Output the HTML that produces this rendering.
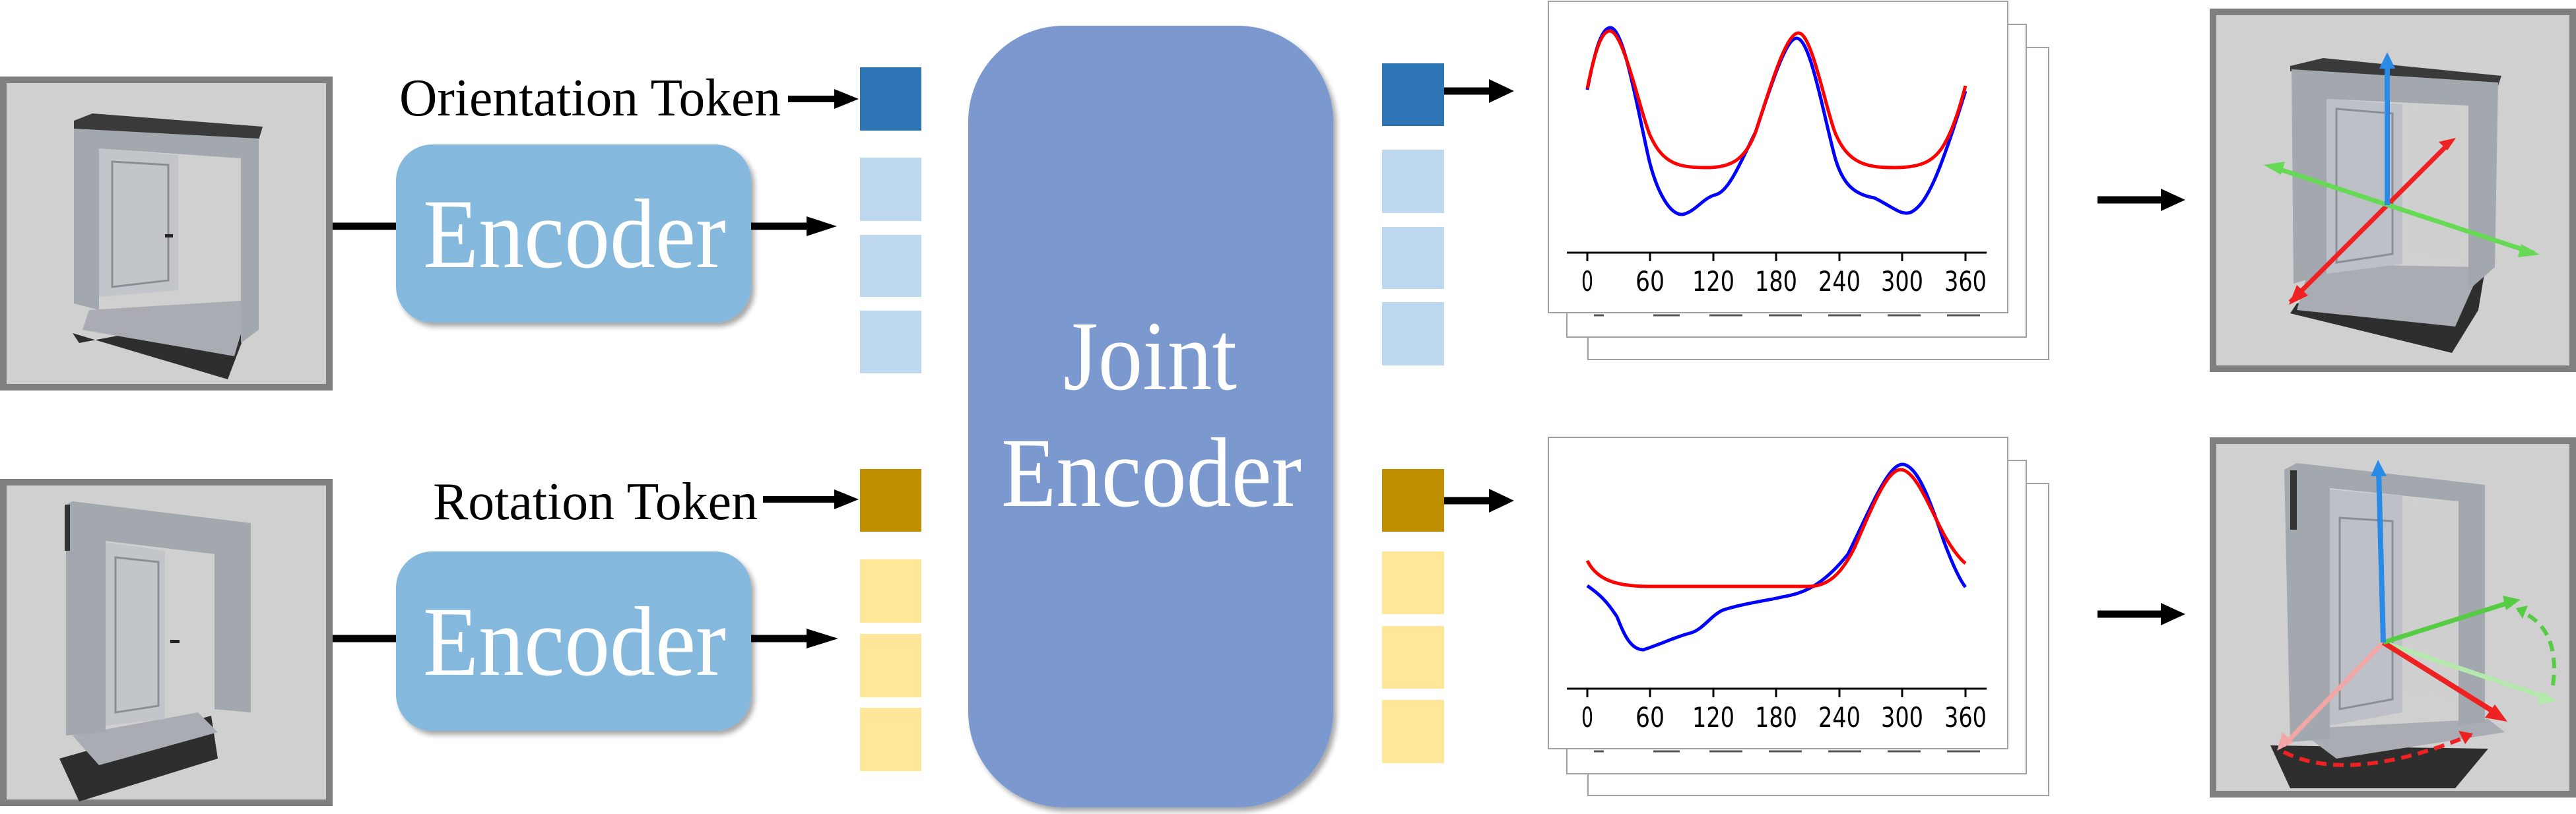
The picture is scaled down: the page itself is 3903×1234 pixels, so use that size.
<!DOCTYPE html>
<html><head><meta charset="utf-8"><style>
html,body{margin:0;padding:0;background:#fff;}
svg{display:block;}
</style></head><body>
<svg width="3903" height="1234" viewBox="0 0 3903 1234" xmlns="http://www.w3.org/2000/svg">
<defs>
<filter id="sh" x="-10%" y="-10%" width="130%" height="130%"><feDropShadow dx="5" dy="6" stdDeviation="4" flood-color="#000" flood-opacity="0.35"/></filter>
</defs>

<!-- Left image 1 -->
<rect x="5" y="121" width="494" height="466" fill="#d0d0d0" stroke="#7f7f7f" stroke-width="10"/>
<g>
<polygon points="120,520 385,470 345,575 110,505" fill="#2e2e2e"/>
<polygon points="135,470 380,455 355,540 125,500" fill="#a9acb2"/>
<polygon points="112,183 140,172 398,192 392,212 112,198" fill="#3a3a3a"/>
<polygon points="112,195 392,210 392,500 365,520 365,240 150,225 150,470 112,460" fill="#a3a7ae"/>
<polygon points="150,225 270,235 270,440 150,450" fill="#c2c5ca"/>
<polygon points="170,245 255,250 255,425 170,435" fill="none" stroke="#8a8e95" stroke-width="3"/>
<polygon points="280,236 360,242 360,440 280,435" fill="#d0d0d0"/>
<rect x="250" y="355" width="12" height="5" fill="#222"/>
</g>

<!-- Left image 2 -->
<rect x="5" y="731" width="494" height="486" fill="#d0d0d0" stroke="#7f7f7f" stroke-width="10"/>
<g>
<polygon points="90,1150 320,1085 330,1150 120,1215" fill="#2e2e2e"/>
<polygon points="110,1115 300,1080 330,1110 150,1160" fill="#a9acb2"/>
<polygon points="100,765 110,760 380,793 380,1080 325,1075 325,840 160,820 160,1110 100,1115" fill="#a3a7ae"/>
<rect x="98" y="765" width="8" height="70" fill="#333"/>
<polygon points="160,822 250,835 250,1090 160,1100" fill="#c2c5ca"/>
<polygon points="175,845 240,852 240,1070 175,1080" fill="none" stroke="#8a8e95" stroke-width="3"/>
<polygon points="270,840 320,845 320,1075 270,1080" fill="#d0d0d0"/>
<rect x="258" y="970" width="14" height="5" fill="#222"/>
</g>

<line x1="504" y1="343" x2="600" y2="343" stroke="#000" stroke-width="11"/>
<line x1="504" y1="968" x2="600" y2="968" stroke="#000" stroke-width="11"/>

<!-- Encoders -->
<rect x="600" y="219" width="538" height="270" rx="55" fill="#84b8dd" filter="url(#sh)"/>
<rect x="600" y="836" width="538" height="272" rx="55" fill="#84b8dd" filter="url(#sh)"/>
<text x="641" y="405" font-family="Liberation Serif, serif" font-size="150" fill="#fff" textLength="459" lengthAdjust="spacingAndGlyphs">Encoder</text>
<text x="641" y="1023" font-family="Liberation Serif, serif" font-size="150" fill="#fff" textLength="459" lengthAdjust="spacingAndGlyphs">Encoder</text>

<line x1="1138" y1="343" x2="1230" y2="343" stroke="#000" stroke-width="11"/>
<polygon points="1222,328 1268,343 1222,358" fill="#000"/>
<line x1="1138" y1="968" x2="1230" y2="968" stroke="#000" stroke-width="11"/>
<polygon points="1222,953 1270,968 1222,983" fill="#000"/>

<text x="605" y="175" font-family="Liberation Serif, serif" font-size="80" fill="#000" textLength="578" lengthAdjust="spacingAndGlyphs">Orientation Token</text>
<line x1="1194" y1="150" x2="1270" y2="150" stroke="#000" stroke-width="10"/>
<polygon points="1264,135 1301,150 1264,165" fill="#000"/>
<text x="656" y="787" font-family="Liberation Serif, serif" font-size="80" fill="#000" textLength="492" lengthAdjust="spacingAndGlyphs">Rotation Token</text>
<line x1="1156" y1="757" x2="1270" y2="757" stroke="#000" stroke-width="10"/>
<polygon points="1264,742 1301,757 1264,772" fill="#000"/>

<rect x="1303" y="102" width="93" height="96" fill="#2e75b6"/>
<rect x="1303" y="239" width="93" height="96" fill="#bdd7ee"/>
<rect x="1303" y="356" width="93" height="94" fill="#bdd7ee"/>
<rect x="1303" y="471" width="93" height="95" fill="#bdd7ee"/>
<rect x="1303" y="711" width="93" height="95" fill="#bf8f00"/>
<rect x="1303" y="848" width="93" height="96" fill="#ffe699"/>
<rect x="1303" y="961" width="93" height="96" fill="#ffe699"/>
<rect x="1303" y="1073" width="93" height="96" fill="#ffe699"/>

<!-- Joint encoder -->
<rect x="1467" y="39" width="553" height="1185" rx="145" fill="#7b99cf" filter="url(#sh)"/>
<text x="1611" y="590" font-family="Liberation Serif, serif" font-size="150" fill="#fff" textLength="263" lengthAdjust="spacingAndGlyphs">Joint</text>
<text x="1517" y="767" font-family="Liberation Serif, serif" font-size="150" fill="#fff" textLength="455" lengthAdjust="spacingAndGlyphs">Encoder</text>

<rect x="2094" y="96" width="94" height="95" fill="#2e75b6"/>
<rect x="2094" y="227" width="94" height="96" fill="#bdd7ee"/>
<rect x="2094" y="344" width="94" height="94" fill="#bdd7ee"/>
<rect x="2094" y="458" width="94" height="96" fill="#bdd7ee"/>
<rect x="2094" y="711" width="94" height="95" fill="#bf8f00"/>
<rect x="2094" y="836" width="94" height="95" fill="#ffe699"/>
<rect x="2094" y="949" width="94" height="95" fill="#ffe699"/>
<rect x="2094" y="1061" width="94" height="96" fill="#ffe699"/>

<line x1="2188" y1="138" x2="2262" y2="138" stroke="#000" stroke-width="11"/>
<polygon points="2256,120 2294,138 2256,156" fill="#000"/>
<line x1="2188" y1="759" x2="2262" y2="759" stroke="#000" stroke-width="11"/>
<polygon points="2256,741 2294,759 2256,777" fill="#000"/>

<!-- Chart stacks -->
<g fill="#fff" stroke="#a0a0a0" stroke-width="2">
<rect x="2406" y="72" width="698" height="473"/>
<rect x="2374" y="37" width="696" height="474"/>
<rect x="2346" y="2" width="696" height="472"/>
<rect x="2406" y="733" width="698" height="473"/>
<rect x="2374" y="698" width="696" height="475"/>
<rect x="2346" y="663" width="696" height="472"/>
</g>
<!-- peeking labels of back charts -->
<g stroke="#555" stroke-width="3">
<line x1="2415" y1="478" x2="2430" y2="478"/><line x1="2505" y1="478" x2="2545" y2="478"/><line x1="2590" y1="478" x2="2640" y2="478"/><line x1="2680" y1="478" x2="2730" y2="478"/><line x1="2770" y1="478" x2="2820" y2="478"/><line x1="2860" y1="478" x2="2910" y2="478"/><line x1="2950" y1="478" x2="3000" y2="478"/>
<line x1="2415" y1="1139" x2="2430" y2="1139"/><line x1="2505" y1="1139" x2="2545" y2="1139"/><line x1="2590" y1="1139" x2="2640" y2="1139"/><line x1="2680" y1="1139" x2="2730" y2="1139"/><line x1="2770" y1="1139" x2="2820" y2="1139"/><line x1="2860" y1="1139" x2="2910" y2="1139"/><line x1="2950" y1="1139" x2="3000" y2="1139"/>
</g>

<!-- Chart 1 -->
<g>
<line x1="2374" y1="383" x2="3010" y2="383" stroke="#000" stroke-width="3"/>
<g stroke="#000" stroke-width="3">
<line x1="2405" y1="383" x2="2405" y2="396"/><line x1="2500" y1="383" x2="2500" y2="396"/><line x1="2596" y1="383" x2="2596" y2="396"/><line x1="2691" y1="383" x2="2691" y2="396"/><line x1="2787" y1="383" x2="2787" y2="396"/><line x1="2882" y1="383" x2="2882" y2="396"/><line x1="2978" y1="383" x2="2978" y2="396"/>
</g>
<g font-family="DejaVu Sans, sans-serif" font-size="42" fill="#000" lengthAdjust="spacingAndGlyphs">
<text x="2396" y="441" textLength="18" lengthAdjust="spacingAndGlyphs">0</text><text x="2478" y="441" textLength="44" lengthAdjust="spacingAndGlyphs">60</text><text x="2564" y="441" textLength="64" lengthAdjust="spacingAndGlyphs">120</text><text x="2659" y="441" textLength="64" lengthAdjust="spacingAndGlyphs">180</text><text x="2755" y="441" textLength="64" lengthAdjust="spacingAndGlyphs">240</text><text x="2850" y="441" textLength="64" lengthAdjust="spacingAndGlyphs">300</text><text x="2946" y="441" textLength="64" lengthAdjust="spacingAndGlyphs">360</text>
</g>
<path d="M2405,136 C2415,85 2425,42 2440,42 C2460,42 2480,160 2498,240 C2510,290 2530,327 2550,325 C2570,320 2580,300 2600,295 C2620,290 2640,240 2660,200 C2680,140 2705,58 2722,58 C2742,58 2760,160 2778,230 C2790,280 2810,295 2840,300 C2870,315 2880,327 2895,322 C2920,310 2940,260 2978,138" fill="none" stroke="#0000ff" stroke-width="5"/>
<path d="M2405,134 C2415,85 2425,47 2439,47 C2460,47 2485,170 2500,205 C2520,250 2545,254 2587,254 C2625,254 2645,240 2660,200 C2680,140 2705,50 2725,50 C2745,50 2765,160 2780,200 C2800,250 2830,254 2871,254 C2910,254 2930,245 2945,220 C2960,195 2970,160 2978,130" fill="none" stroke="#ff0000" stroke-width="5"/>
</g>

<!-- Chart 2 -->
<g>
<line x1="2374" y1="1044" x2="3010" y2="1044" stroke="#000" stroke-width="3"/>
<g stroke="#000" stroke-width="3">
<line x1="2405" y1="1044" x2="2405" y2="1057"/><line x1="2500" y1="1044" x2="2500" y2="1057"/><line x1="2596" y1="1044" x2="2596" y2="1057"/><line x1="2691" y1="1044" x2="2691" y2="1057"/><line x1="2787" y1="1044" x2="2787" y2="1057"/><line x1="2882" y1="1044" x2="2882" y2="1057"/><line x1="2978" y1="1044" x2="2978" y2="1057"/>
</g>
<g font-family="DejaVu Sans, sans-serif" font-size="42" fill="#000">
<text x="2396" y="1102" textLength="18" lengthAdjust="spacingAndGlyphs">0</text><text x="2478" y="1102" textLength="44" lengthAdjust="spacingAndGlyphs">60</text><text x="2564" y="1102" textLength="64" lengthAdjust="spacingAndGlyphs">120</text><text x="2659" y="1102" textLength="64" lengthAdjust="spacingAndGlyphs">180</text><text x="2755" y="1102" textLength="64" lengthAdjust="spacingAndGlyphs">240</text><text x="2850" y="1102" textLength="64" lengthAdjust="spacingAndGlyphs">300</text><text x="2946" y="1102" textLength="64" lengthAdjust="spacingAndGlyphs">360</text>
</g>
<path d="M2405,888 C2430,905 2440,920 2450,935 C2460,960 2470,985 2490,985 C2520,975 2540,965 2560,960 C2580,955 2590,935 2610,925 C2640,915 2680,910 2700,905 C2730,900 2760,890 2800,840 C2830,780 2860,704 2882,704 C2905,704 2925,760 2945,820 C2960,860 2970,880 2978,890" fill="none" stroke="#0000ff" stroke-width="5"/>
<path d="M2405,850 C2420,880 2450,889 2500,889 L2740,889 C2770,889 2790,870 2810,830 C2840,760 2860,712 2880,712 C2900,712 2920,760 2940,800 C2955,830 2970,848 2978,854" fill="none" stroke="#ff0000" stroke-width="5"/>
</g>

<line x1="3178" y1="303" x2="3280" y2="303" stroke="#000" stroke-width="11"/>
<polygon points="3274,286 3311,303 3274,320" fill="#000"/>
<line x1="3178" y1="931" x2="3280" y2="931" stroke="#000" stroke-width="11"/>
<polygon points="3274,914 3311,931 3274,948" fill="#000"/>

<!-- Right image 1 -->
<rect x="3353" y="18" width="545" height="541" fill="#d0d0d0" stroke="#7f7f7f" stroke-width="10"/>
<g>
<polygon points="3480,460 3765,410 3755,470 3715,535 3470,475" fill="#2e2e2e"/>
<polygon points="3500,400 3760,405 3720,495 3480,470" fill="#a9acb2"/>
<polygon points="3470,100 3520,88 3790,115 3785,130 3470,108" fill="#3a3a3a"/>
<polygon points="3472,105 3785,125 3780,405 3740,440 3740,160 3525,150 3525,415 3475,430" fill="#a3a7ae"/>
<polygon points="3525,150 3640,158 3640,400 3525,415" fill="#bdc0c6"/>
<polygon points="3540,165 3625,172 3625,385 3540,398" fill="none" stroke="#8a8e95" stroke-width="3"/>
<polygon points="3648,160 3735,168 3735,395 3648,380" fill="#cfcfcf"/>
<line x1="3470" y1="458" x2="3710" y2="218" stroke="#ee2222" stroke-width="7"/>
<polygon points="3721,209 3695,215 3708,228" fill="#ee2222"/>
<polygon points="3468,462 3480,432 3497,448" fill="#ee2222"/>
<line x1="3440" y1="252" x2="3840" y2="384" stroke="#66d955" stroke-width="7"/>
<polygon points="3430,250 3462,245 3456,265" fill="#66d955"/>
<polygon points="3848,386 3815,390 3820,370" fill="#66d955"/>
<line x1="3617" y1="311" x2="3617" y2="95" stroke="#2b8ae6" stroke-width="8"/>
<polygon points="3617,79 3605,104 3629,104" fill="#2b8ae6"/>
</g>

<!-- Right image 2 -->
<rect x="3353" y="668" width="545" height="536" fill="#d0d0d0" stroke="#7f7f7f" stroke-width="10"/>
<g>
<polygon points="3440,1130 3770,1135 3720,1195 3470,1195" fill="#2e2e2e"/>
<polygon points="3480,1105 3770,1090 3795,1110 3540,1150" fill="#a9acb2"/>
<polygon points="3461,712 3480,702 3765,735 3765,1095 3725,1100 3725,760 3530,740 3530,1120 3470,1125" fill="#a3a7ae"/>
<rect x="3470" y="713" width="10" height="90" fill="#333"/>
<polygon points="3530,742 3640,752 3640,1080 3530,1100" fill="#bdc0c6"/>
<polygon points="3545,785 3625,790 3625,1060 3545,1075" fill="none" stroke="#8a8e95" stroke-width="3"/>
<polygon points="3645,760 3720,765 3720,1060 3645,1050" fill="#cfcfcf"/>
<path d="M3460,1140 Q3560,1190 3744,1114" fill="none" stroke="#ee2222" stroke-width="6" stroke-dasharray="16,10"/>
<polygon points="3747,1112 3725,1108 3735,1128" fill="#ee2222"/>
<path d="M3868,1039 Q3880,950 3815,925" fill="none" stroke="#55cc44" stroke-width="6" stroke-dasharray="16,10"/>
<polygon points="3812,922 3830,918 3822,938" fill="#55cc44"/>
<line x1="3611" y1="974" x2="3460" y2="1130" stroke="#f2a6a6" stroke-width="7"/>
<polygon points="3450,1138 3458,1110 3475,1125" fill="#f2a6a6"/>
<line x1="3611" y1="974" x2="3860" y2="1058" stroke="#b5e8ad" stroke-width="7"/>
<polygon points="3876,1063 3845,1068 3850,1048" fill="#b5e8ad"/>
<line x1="3611" y1="974" x2="3780" y2="1080" stroke="#ee2222" stroke-width="8"/>
<polygon points="3799,1094 3765,1088 3780,1068" fill="#ee2222"/>
<line x1="3611" y1="974" x2="3800" y2="914" stroke="#55cc44" stroke-width="7"/>
<polygon points="3819,909 3792,903 3797,925" fill="#55cc44"/>
<line x1="3611" y1="974" x2="3604" y2="712" stroke="#2b8ae6" stroke-width="8"/>
<polygon points="3603,697 3592,722 3616,722" fill="#2b8ae6"/>
</g>
</svg>
</body></html>
